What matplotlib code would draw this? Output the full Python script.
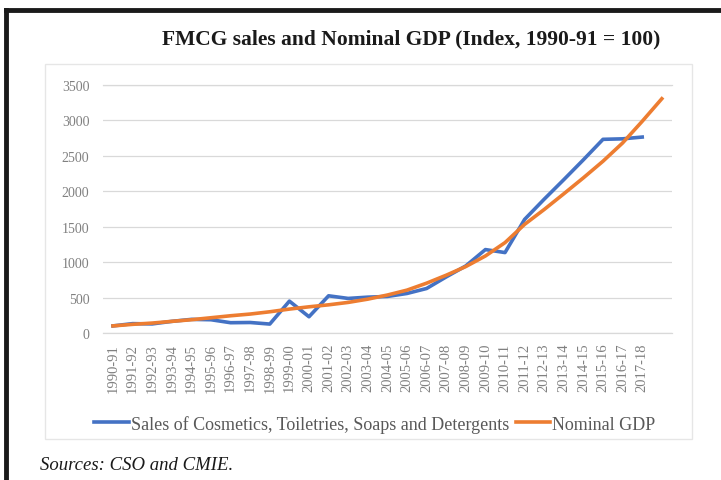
import numpy as np
import matplotlib
matplotlib.use('Agg')
import matplotlib.pyplot as plt
from matplotlib.patches import Rectangle

# Datos (índice, 1990-91 = 100)
years = ['1990-91', '1991-92', '1992-93', '1993-94', '1994-95', '1995-96',
         '1996-97', '1997-98', '1998-99', '1999-00', '2000-01', '2001-02',
         '2002-03', '2003-04', '2004-05', '2005-06', '2006-07', '2007-08',
         '2008-09', '2009-10', '2010-11', '2011-12', '2012-13', '2013-14',
         '2014-15', '2015-16', '2016-17', '2017-18', '']
fmcg_sales = [100, 132, 128, 164, 192, 187, 145, 148, 126, 449, 229, 524,
              487, 505, 515, 557, 627, 790, 945, 1175, 1133, 1600, 1885,
              2160, 2440, 2728, 2735, 2760]
nominal_gdp = [100, 122, 140, 164, 187, 215, 243, 267, 299, 337, 369, 397,
               431, 477, 535, 604, 702, 814, 936, 1085, 1273, 1530, 1740,
               1961, 2186, 2420, 2677, 2982, 3300]

yticks = [0, 500, 1000, 1500, 2000, 2500, 3000, 3500]

plt.rcParams['font.family'] = ['Liberation Serif', 'DejaVu Serif']

fig = plt.figure(figsize=(7.21, 4.81), dpi=100)
fig.patch.set_facecolor('white')

# Marco negro (borde superior e izquierdo)
fig.add_artist(plt.Line2D([0.009, 1.0], [0.978, 0.978], color='#1a1a1a',
                          lw=3.5, transform=fig.transFigure))
fig.add_artist(plt.Line2D([0.009, 0.009], [0.0, 0.978], color='#1a1a1a',
                          lw=3.5, transform=fig.transFigure))

# Borde del área del gráfico
fig.add_artist(Rectangle((0.062, 0.085), 0.898, 0.78, fill=False,
                         edgecolor='#e6e6e6', lw=1.0,
                         transform=fig.transFigure))

ax = fig.add_axes([0.1431, 0.3056, 0.7884, 0.5166])
x = np.arange(len(years))

ax.plot(x[:len(fmcg_sales)], fmcg_sales, color='#4472C4', lw=2.6,
        solid_joinstyle='round', label='Sales of Cosmetics, Toiletries, Soaps and Detergents')
ax.plot(x[:len(nominal_gdp)], nominal_gdp, color='#ED7D31', lw=2.6,
        solid_joinstyle='round', label='Nominal GDP')

ax.set_xlim(-0.5, len(years) - 0.5)
ax.set_ylim(0, 3500)
ax.set_yticks(yticks)
ax.set_yticklabels([str(v) for v in yticks], color='#808080', fontsize=10)
ax.set_xticks(x)
ax.set_xticklabels(years, rotation=90, color='#808080', fontsize=10.5)
ax.tick_params(axis='y', length=0, pad=10)
ax.tick_params(axis='x', length=0, pad=7)
ax.grid(axis='y', color='#d9d9d9', lw=0.9)
for v in (0, 3500):
    ax.axhline(v, color='#d9d9d9', lw=0.9, clip_on=False, zorder=0)
ax.set_axisbelow(True)
for s in ax.spines.values():
    s.set_visible(False)

fig.text(0.57, 0.918, 'FMCG sales and Nominal GDP (Index, 1990-91 = 100)',
         ha='center', va='center', fontsize=15.5, fontweight='bold',
         color='#1a1a1a')

fig.legend(loc='center', bbox_to_anchor=(0.52, 0.117), ncol=2, frameon=False,
           fontsize=13, labelcolor='#595959', handlelength=1.9,
           handletextpad=0.1, columnspacing=0.4)

fig.text(0.055, 0.033, 'Sources: CSO and CMIE.', ha='left', va='center',
         fontsize=13.5, style='italic', color='#1a1a1a')

fig.savefig('out.png', dpi=100)
